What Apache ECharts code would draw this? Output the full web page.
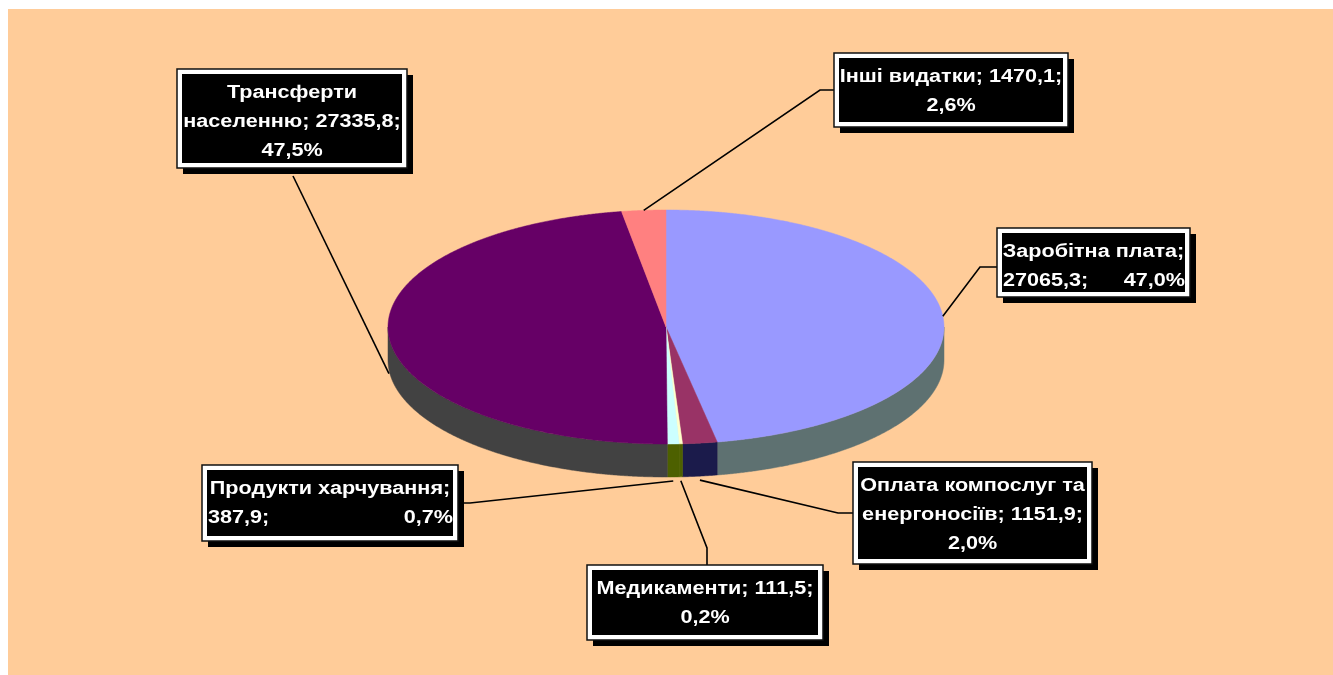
<!DOCTYPE html>
<html><head><meta charset="utf-8">
<script src="https://cdn.jsdelivr.net/npm/echarts@6/dist/echarts.min.js"></script>
<style>html,body{margin:0;padding:0;background:#fff}#c{width:1333px;height:675px}</style>
</head><body><div id="c"></div>
<script>
// ---- data ----
const categories = ['Заробітна плата', 'Оплата компослуг та енергоносіїв', 'Медикаменти', 'Продукти харчування', 'Трансферти населенню', 'Інші видатки'];
const values = [27065.3, 1151.9, 111.5, 387.9, 27335.8, 1470.1];
const percents = [47.0, 2.0, 0.2, 0.7, 47.5, 2.6];

// ---- styles ----
const topColors = ['#9999FF', '#993366', '#FFFFCC', '#CCFFFF', '#660066', '#FF8080'];
const sideColors = ['#5E7171', '#1B1B4B', '#4D6000', '#4D6000', '#424242', '#7F4040'];

// ---- layout ----
const PIE = {cx: 666, cy: 327, rx: 278, ry: 117, depth: 33};
const FONT = 18, LINE_H = 29, STRETCH = 1.2;
const fmt = v => v.toFixed(1).replace('.', ',');
const labelLayout = [
  {box: [997, 228, 193, 69], elbow: [980, 267], attach: [997, 267],
   lines: (n, v, p) => [n + ';', [v + ';', p]]},
  {box: [853, 462, 239, 102], elbow: [838, 513], attach: [853, 513],
   lines: (n, v, p) => { const w = n.split(' '); return [w.slice(0, 3).join(' '), w[3] + '; ' + v + ';', p]; }},
  {box: [587, 565, 236, 75], elbow: [707, 548], attach: [707, 565],
   lines: (n, v, p) => [n + '; ' + v + ';', p]},
  {box: [202, 465, 256, 76], elbow: [470, 503], attach: [458, 503],
   lines: (n, v, p) => [n + ';', [v + ';', p]]},
  {box: [177, 69, 230, 99], elbow: [293, 176], attach: [293, 176],
   lines: (n, v, p) => { const w = n.split(' '); return [w[0], w[1] + '; ' + v + ';', p]; }},
  {box: [834, 53, 234, 74], elbow: [820, 90], attach: [834, 90],
   lines: (n, v, p) => [n + '; ' + v + ';', p]}
];

const total = values.reduce((a, b) => a + b, 0);
const cum = [];
values.reduce((a, v, i) => { cum[i] = a; return a + v; }, 0);

function pt(t, dy) {
  return [PIE.cx + PIE.rx * Math.sin(t), PIE.cy - PIE.ry * Math.cos(t) + (dy || 0)];
}
function arc(a0, a1, dy) {
  const n = Math.max(2, Math.ceil((a1 - a0) / 0.005));
  const out = [];
  for (let k = 0; k <= n; k++) out.push(pt(a0 + (a1 - a0) * k / n, dy));
  return out;
}

function renderItem(params, api) {
  const i = params.dataIndex;
  const v = api.value(0);
  const a0 = cum[i] / total * Math.PI * 2;
  const a1 = (cum[i] + v) / total * Math.PI * 2;
  const children = [];
  // side
  const s0 = Math.max(a0, Math.PI / 2), s1 = Math.min(a1, Math.PI * 1.5);
  if (s1 > s0) {
    const pts = arc(s0, s1, 0).concat(arc(s0, s1, PIE.depth).reverse());
    children.push({type: 'polygon', shape: {points: pts}, style: {fill: sideColors[i], stroke: sideColors[i], lineWidth: 0.5}, z2: 1});
  }
  // top
  const topPts = [[PIE.cx, PIE.cy]].concat(arc(a0, a1, 0));
  children.push({type: 'polygon', shape: {points: topPts}, style: {fill: topColors[i], stroke: topColors[i], lineWidth: 0.5}, z2: 5});
  // leader
  const mid = (a0 + a1) / 2;
  let anchor = pt(mid, 0);
  if (Math.cos(mid) < 0) anchor = pt(mid, PIE.depth + 4);
  const L = labelLayout[i];
  children.push({type: 'polyline', shape: {points: [anchor, L.elbow, L.attach]}, style: {stroke: '#000', lineWidth: 1.6, fill: null}, z2: 20});
  // box
  const [bx, by, bw, bh] = L.box;
  children.push({type: 'rect', shape: {x: bx + 6, y: by + 6, width: bw, height: bh}, style: {fill: '#000'}, z2: 30});
  children.push({type: 'rect', shape: {x: bx, y: by, width: bw, height: bh}, style: {fill: '#fff', stroke: '#111', lineWidth: 1.5}, z2: 31});
  children.push({type: 'rect', shape: {x: bx + 5, y: by + 5, width: bw - 10, height: bh - 10}, style: {fill: '#000'}, z2: 32});
  const lines = L.lines(categories[i], fmt(values[i]), fmt(percents[i]) + '%');
  const font = {fill: '#fff', fontSize: FONT, fontWeight: 'bold', fontFamily: '"Liberation Sans", Arial, sans-serif', verticalAlign: 'middle', x: 0, y: 0};
  const txt = (s, x, y, align) => ({type: 'text', x: x, y: y, scaleX: STRETCH, scaleY: 1,
    style: Object.assign({text: s, align: align}, font), z2: 40});
  lines.forEach((ln, k) => {
    const y = by + 30 + k * LINE_H - FONT * 0.35;
    if (Array.isArray(ln)) {
      children.push(txt(ln[0], bx + 6, y, 'left'));
      children.push(txt(ln[1], bx + bw - 5, y, 'right'));
    } else {
      children.push(txt(ln, bx + bw / 2, y, 'center'));
    }
  });
  return {type: 'group', children: children};
}

const chart = echarts.init(document.getElementById('c'), null, {renderer: 'canvas'});
chart.setOption({
  animation: false,
  backgroundColor: '#ffffff',
  graphic: [{type: 'rect', shape: {x: 8, y: 9, width: 1325, height: 666}, style: {fill: '#FFCC99'}, z: -10, silent: true}],
  series: [{
    type: 'custom',
    coordinateSystem: 'none',
    renderItem: renderItem,
    data: values.map(v => [v]),
    silent: true
  }]
});
</script></body></html>
